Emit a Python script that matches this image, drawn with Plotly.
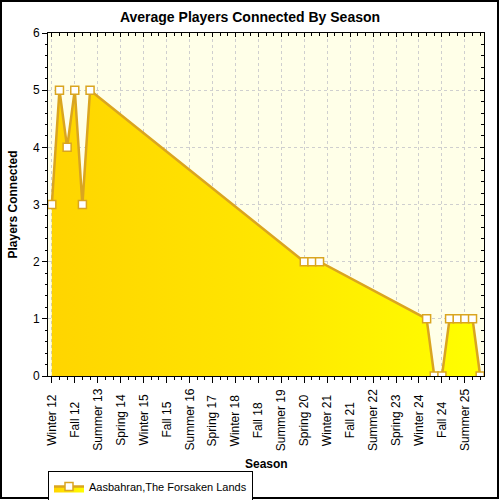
"""Average players connected by season - area chart."""

import plotly.graph_objects as go

# every season on the axis, in order
all_seasons = [
    "Winter 12", "Spring 12", "Summer 12", "Fall 12",
    "Winter 13", "Spring 13", "Summer 13", "Fall 13",
    "Winter 14", "Spring 14", "Summer 14", "Fall 14",
    "Winter 15", "Spring 15", "Summer 15", "Fall 15",
    "Winter 16", "Spring 16", "Summer 16", "Fall 16",
    "Winter 17", "Spring 17", "Summer 17", "Fall 17",
    "Winter 18", "Spring 18", "Summer 18", "Fall 18",
    "Winter 19", "Spring 19", "Summer 19", "Fall 19",
    "Winter 20", "Spring 20", "Summer 20", "Fall 20",
    "Winter 21", "Spring 21", "Summer 21", "Fall 21",
    "Winter 22", "Spring 22", "Summer 22", "Fall 22",
    "Winter 23", "Spring 23", "Summer 23", "Fall 23",
    "Winter 24", "Spring 24", "Summer 24", "Fall 24",
    "Winter 25", "Spring 25", "Summer 25", "Fall 25",
    "Winter 26",
]

# seasons that have a value, and the value
played_seasons = [
    "Winter 12", "Spring 12", "Summer 12", "Fall 12", "Winter 13", "Spring 13",
    "Spring 20", "Summer 20", "Fall 20",
    "Spring 24", "Summer 24", "Fall 24",
    "Winter 25", "Spring 25", "Summer 25", "Fall 25", "Winter 26",
]
players = [3, 5, 4, 5, 3, 5, 2, 2, 2, 1, 0, 0, 1, 1, 1, 1, 0]

series_name = "Aasbahran,The Forsaken Lands"

# labelled seasons (every third one)
label_seasons = all_seasons[::3]

W, H = 500, 500
ML, MR, MT, MB = 48, 16, 33, 124
PW, PH = W - ML - MR, H - MT - MB

xs = [all_seasons.index(s) for s in played_seasons]
label_pos = [all_seasons.index(s) for s in label_seasons]

FONT = "Liberation Sans, Arial, sans-serif"
LINE = "#DAA520"

fig = go.Figure()
fig.add_trace(
    go.Scatter(
        x=xs,
        y=players,
        mode="lines+markers",
        name=series_name,
        fill="tozeroy",
        fillgradient=dict(
            type="horizontal",
            colorscale=[[0, "#FFD500"], [0.5, "#FFE600"], [1, "#FFFF00"]],
        ),
        line=dict(color=LINE, width=2.5),
        marker=dict(symbol="square", size=8, color="white", line=dict(color=LINE, width=1.5)),
    )
)

for pos, lab in zip(label_pos, label_seasons):
    fig.add_annotation(
        x=pos, y=0, yref="paper", text=lab, showarrow=False, textangle=-90,
        xanchor="center", yanchor="middle",
        yshift=-44, font=dict(family=FONT, size=12, color="#000"),
    )

fig.add_annotation(
    x=0.5, y=0, xref="paper", yref="paper", text="<b>Season</b>", showarrow=False,
    xanchor="center", yanchor="middle",
    yshift=-88, font=dict(family=FONT, size=12, color="#000"),
)

axis_common = dict(showline=True, linecolor="#000", linewidth=1, zeroline=False, automargin=False)

fig.update_layout(
    width=W,
    height=H,
    margin=dict(l=ML, r=MR, t=MT, b=MB, autoexpand=False),
    paper_bgcolor="#FFFFFF",
    plot_bgcolor="#FFFFE8",
    title=dict(
        text="<b>Average Players Connected By Season</b>",
        x=0.5, xref="container", y=1 - 17 / H, yref="container",
        xanchor="center", yanchor="middle",
        font=dict(family=FONT, size=14, color="#000"),
    ),
    font=dict(family=FONT, size=12, color="#000"),
    xaxis=dict(
        **axis_common,
        range=[-0.5, len(all_seasons) - 0.5],
        tickvals=label_pos,
        showticklabels=False,
        ticks="outside", ticklen=6, tickcolor="#000",
        minor=dict(dtick=1, tick0=0, ticks="outside", ticklen=3, tickcolor="#000", showgrid=False),
        showgrid=True, gridcolor="#CFCFCF", griddash="dot", gridwidth=1,
    ),
    yaxis=dict(
        **axis_common,
        range=[0, 6],
        dtick=1,
        ticks="outside", ticklen=5, tickcolor="#000",
        minor=dict(dtick=0.2, ticks="outside", ticklen=2, tickcolor="#000", showgrid=False),
        showgrid=True, gridcolor="#CFCFCF", griddash="dot", gridwidth=1,
        tickfont=dict(family=FONT, size=12, color="#000"),
        title=dict(text="<b>Players Connected</b>", standoff=12,
                   font=dict(family=FONT, size=12, color="#000")),
    ),
    xaxis2=dict(
        **axis_common, overlaying="x", side="top", anchor="y", matches="x",
        tickvals=label_pos, showticklabels=False, showgrid=False,
        ticks="inside", ticklen=4, tickcolor="#000",
        minor=dict(dtick=1, tick0=0, ticks="inside", ticklen=3, tickcolor="#000", showgrid=False),
    ),
    yaxis2=dict(
        **axis_common, overlaying="y", side="right", anchor="x", matches="y",
        dtick=1, showticklabels=False, showgrid=False,
        ticks="inside", ticklen=4, tickcolor="#000",
        minor=dict(dtick=0.2, ticks="inside", ticklen=3, tickcolor="#000", showgrid=False),
    ),
    showlegend=True,
    legend=dict(
        x=ML / W, xref="container", xanchor="left",
        y=1 - 471 / H, yref="container", yanchor="top",
        orientation="h",
        bordercolor="#000", borderwidth=1, bgcolor="#FFFFFF",
        font=dict(family=FONT, size=11, color="#000"),
        itemwidth=30,
        tracegroupgap=0,
    ),
    shapes=[
        dict(
            type="rect", xref="paper", yref="paper",
            x0=(1 - ML) / PW, x1=(498 - ML) / PW,
            y0=(MT + PH - 498) / PH, y1=(MT + PH - 1) / PH,
            line=dict(color="#000", width=2), fillcolor="rgba(0,0,0,0)", layer="above",
        )
    ],
)

# empty trace so the mirrored top/right axes are drawn
fig.add_trace(go.Scatter(x=[], y=[], xaxis="x2", yaxis="y2", showlegend=False, hoverinfo="skip"))

# drop the browser's default body margin so the 500x500 figure fills the window
fig.write_html(
    "out.html",
    config={"displayModeBar": False},
    post_script="document.body.style.margin = '0';",
)
